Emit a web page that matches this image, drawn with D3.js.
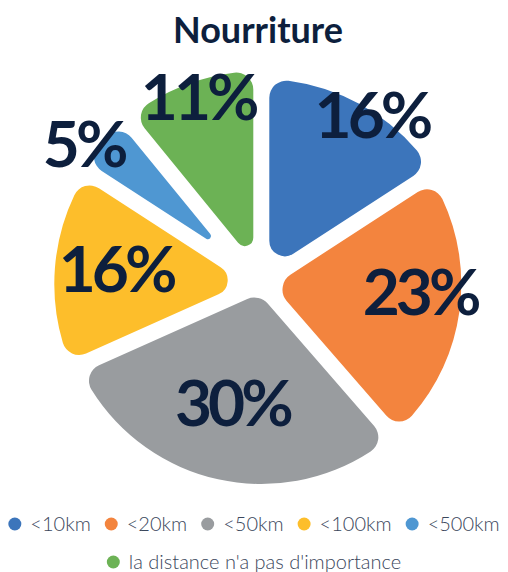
<!DOCTYPE html>
<html>
<head>
<meta charset="utf-8">
<script src="https://cdn.jsdelivr.net/npm/d3@7"></script>
<style>
body { margin: 0; background: #fff; }
</style>
</head>
<body>
<div id="chart"></div>
<script>
const categories = ["<10km", "<20km", "<50km", "<100km", "<500km", "la distance n'a pas d'importance"];
const values = [16, 23, 30, 16, 5, 11];
const labels = ["16%", "23%", "30%", "16%", "5%", "11%"];

const colors = ["#3c75bb", "#f3843e", "#999c9f", "#fdbe2b", "#4f97d2", "#6cb255"];
// each slice has its own outer radius and label placement in the original
const outerR = [205, 200, 200, 207, 214, 213];
const labelR = [202, 159, 122, 146, 226, 197];
const labelTurn = [4.7, -5.1, 1.3, 1.4, -3.7, 0.9]; // degrees off the bisector

const width = 508, height = 572;
const cx = 261.3, cy = 284;
const gap = 16, padR = 100, corner = 17;

const svg = d3.select("#chart")
    .append("svg")
    .attr("width", width)
    .attr("height", height);

svg.append("text")
    .attr("x", width/2 + 4)
    .attr("y", 43)
    .attr("text-anchor", "middle")
    .attr("font-family", "Lato")
    .attr("font-weight", 700)
    .attr("font-size", 36)
    .attr("fill", "#0d1f3d")
    .text("Nourriture");

const data = categories.map((c, i) => ({ name: c, value: values[i], label: labels[i], i }));
const pie = d3.pie().sort(null).value(d => d.value);
const arcs = pie(data);

const g = svg.append("g").attr("transform", `translate(${cx},${cy})`);

function sliceArc(d) {
    const half = (d.endAngle - d.startAngle) / 2;
    const lc = (gap/2) / Math.sin(half);
    const kc = 1 / Math.sin(half);
    const r0 = lc + Math.min(18 * (kc - 1), 17);
    return d3.arc()
        .innerRadius(r0)
        .outerRadius(outerR[d.data.i])
        .cornerRadius(corner)
        .padRadius(padR)
        .padAngle(2 * Math.asin((gap/2) / padR))(d);
}

g.selectAll("path")
    .data(arcs).enter()
    .append("path")
    .attr("d", sliceArc)
    .attr("fill", d => colors[d.data.i]);

const labelAngle = d => (d.startAngle + d.endAngle)/2 + labelTurn[d.data.i] * Math.PI / 180;

g.selectAll("text.pct")
    .data(arcs).enter()
    .append("text")
    .attr("class", "pct")
    .attr("x", d => labelR[d.data.i] * Math.sin(labelAngle(d)))
    .attr("y", d => -labelR[d.data.i] * Math.cos(labelAngle(d)))
    .attr("text-anchor", "middle")
    .attr("dy", "0.36em")
    .attr("font-family", "Lato")
    .attr("font-weight", 700)
    .attr("font-size", 64)
    .attr("letter-spacing", -4)
    .attr("fill", "#0d1f3d")
    .text(d => d.data.label);

// legend: first five on one row, the last one below
const rows = [[0, 1, 2, 3, 4], [5]];
const rowY = [524, 562];
const legend = svg.append("g");

rows.forEach((row, r) => {
    const rg = legend.append("g");
    let x = 0;
    row.forEach(i => {
        rg.append("circle")
            .attr("cx", x + 6.5)
            .attr("cy", rowY[r])
            .attr("r", 6.5)
            .attr("fill", colors[i]);
        const t = rg.append("text")
            .attr("x", x + 22)
            .attr("y", rowY[r])
            .attr("dy", "0.35em")
            .attr("font-family", "Lato")
            .attr("font-weight", 300)
            .attr("font-size", 20)
            .attr("fill", "#3b475c")
            .text(categories[i]);
        x += 22 + t.node().getComputedTextLength() + 14;
    });
    const w = x - 14;
    rg.attr("transform", `translate(${(width - w)/2},0)`);
});
</script>
</body>
</html>
